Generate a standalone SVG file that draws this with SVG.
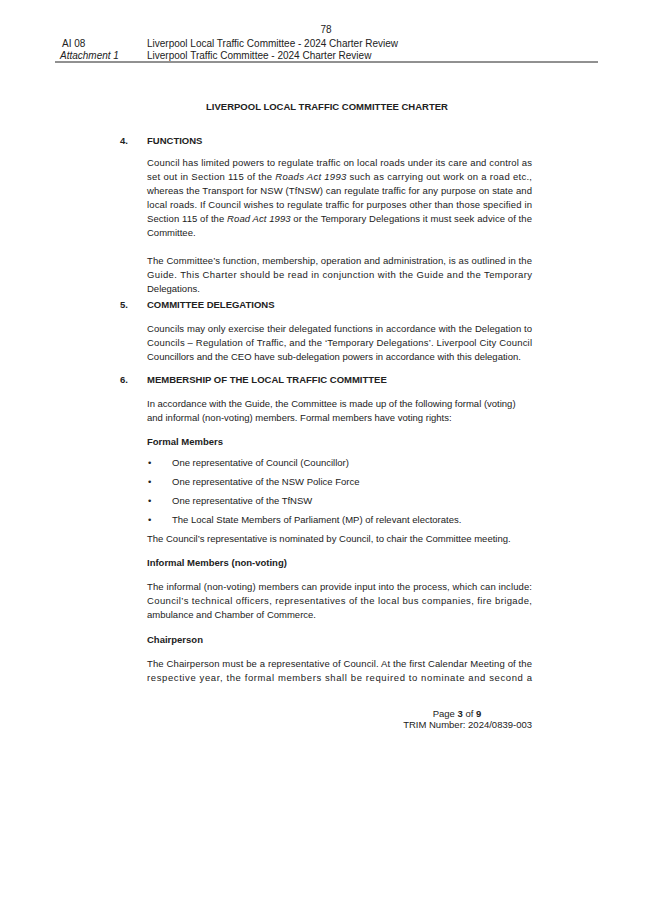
<svg xmlns="http://www.w3.org/2000/svg" width="653" height="924" viewBox="0 0 653 924">
<style>
text{font-family:"Liberation Sans",Arial,sans-serif;font-size:9.5px;fill:#222}
.h{font-size:10px}
.b{font-weight:bold}
</style>
<rect width="653" height="924" fill="#fff"/>
<g id="header">
<text x="326" y="33" class="h" text-anchor="middle" font-size="12">78</text>
<text x="62" y="47" class="h">AI 08</text>
<text x="147" y="47" class="h">Liverpool Local Traffic Committee - 2024 Charter Review</text>
<text x="60" y="59" class="h" font-style="italic">Attachment 1</text>
<text x="147" y="59" class="h">Liverpool Traffic Committee - 2024 Charter Review</text>
<line x1="55" y1="62" x2="598" y2="62" stroke="#222" stroke-width="1"/>
</g>
<g id="body">
<text x="327" y="110" class="b" text-anchor="middle" font-size="9.7">LIVERPOOL LOCAL TRAFFIC COMMITTEE CHARTER</text>
<text x="120" y="144" class="b">4.</text><text x="147" y="144" class="b">FUNCTIONS</text>
<text x="147" y="166" textLength="385" lengthAdjust="spacing">Council has limited powers to regulate traffic on local roads under its care and control as</text>
<text x="147" y="180" textLength="385" lengthAdjust="spacing">set out in Section 115 of the <tspan font-style="italic">Roads Act 1993</tspan> such as carrying out work on a road etc.,</text>
<text x="147" y="194" textLength="385" lengthAdjust="spacing">whereas the Transport for NSW (TfNSW) can regulate traffic for any purpose on state and</text>
<text x="147" y="208" textLength="385" lengthAdjust="spacing">local roads.  If Council wishes to regulate traffic for purposes other than those specified in</text>
<text x="147" y="222" textLength="385" lengthAdjust="spacing">Section 115 of the <tspan font-style="italic">Road Act 1993</tspan> or the Temporary Delegations it must seek advice of the</text>
<text x="147" y="236">Committee.</text>
<text x="147" y="264" textLength="385" lengthAdjust="spacing">The Committee’s function, membership, operation and administration, is as outlined in the</text>
<text x="147" y="278" textLength="385" lengthAdjust="spacing">Guide. This Charter should be read in conjunction with the Guide and the Temporary</text>
<text x="147" y="292">Delegations.</text>
<text x="120" y="308" class="b">5.</text><text x="147" y="308" class="b">COMMITTEE DELEGATIONS</text>
<text x="147" y="332" textLength="385" lengthAdjust="spacing">Councils may only exercise their delegated functions in accordance with the Delegation to</text>
<text x="147" y="346" textLength="385" lengthAdjust="spacing">Councils – Regulation of Traffic, and the ‘Temporary Delegations’. Liverpool City Council</text>
<text x="147" y="360">Councillors and the CEO have sub-delegation powers in accordance with this delegation.</text>
<text x="120" y="383" class="b">6.</text><text x="147" y="383" class="b">MEMBERSHIP OF THE LOCAL TRAFFIC COMMITTEE</text>
<text x="147" y="407">In accordance with the Guide, the Committee is made up of the following formal (voting)</text>
<text x="147" y="421">and informal (non-voting) members. Formal members have voting rights:</text>
<text x="147" y="445" class="b">Formal Members</text>
<text x="148" y="466">•</text><text x="172" y="466">One representative of Council (Councillor)</text>
<text x="148" y="485">•</text><text x="172" y="485">One representative of the NSW Police Force</text>
<text x="148" y="504">•</text><text x="172" y="504">One representative of the TfNSW</text>
<text x="148" y="523">•</text><text x="172" y="523">The Local State Members of Parliament (MP) of relevant electorates.</text>
<text x="147" y="542">The Council’s representative is nominated by Council, to chair the Committee meeting.</text>
<text x="147" y="566" class="b">Informal Members (non-voting)</text>
<text x="147" y="590" textLength="385" lengthAdjust="spacing">The informal (non-voting) members can provide input into the process, which can include:</text>
<text x="147" y="604" textLength="385" lengthAdjust="spacing">Council’s technical officers, representatives of the local bus companies, fire brigade,</text>
<text x="147" y="618">ambulance and Chamber of Commerce.</text>
<text x="147" y="643" class="b">Chairperson</text>
<text x="147" y="667" textLength="385" lengthAdjust="spacing">The Chairperson must be a representative of Council. At the first Calendar Meeting of the</text>
<text x="147" y="681" textLength="385" lengthAdjust="spacing">respective year, the formal members shall be required to nominate and second a</text>
</g>
<g id="footer">
<text x="457" y="717" font-size="7px" text-anchor="middle">Page <tspan font-weight="bold">3</tspan> of <tspan font-weight="bold">9</tspan></text>
<text x="532" y="728" font-size="7px" text-anchor="end">TRIM Number: 2024/0839-003</text>
</g>
</svg>
